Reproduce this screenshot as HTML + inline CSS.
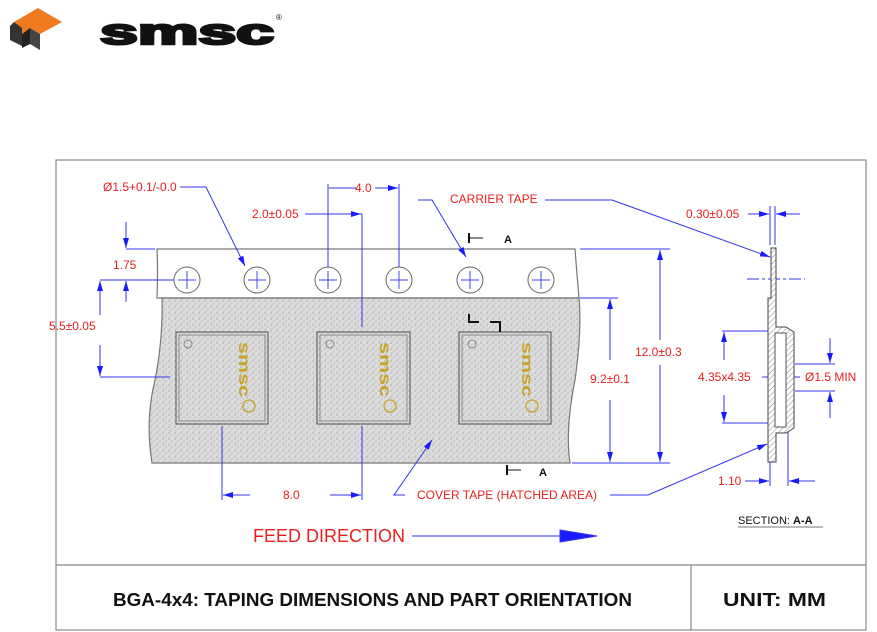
<!DOCTYPE html>
<html><head><meta charset="utf-8"><style>
html,body{margin:0;padding:0;background:#fff;}
svg{display:block;}
text{font-family:"Liberation Sans",sans-serif;}
</style></head><body>
<svg width="877" height="632" viewBox="0 0 877 632" xmlns="http://www.w3.org/2000/svg">
<defs>
<pattern id="dots" width="6" height="6" patternUnits="userSpaceOnUse">
<rect width="6" height="6" fill="#dcdcdc"/>
<circle cx="1" cy="1" r="0.8" fill="#aaa"/><circle cx="4" cy="3" r="0.7" fill="#b4b4b4"/><circle cx="2" cy="5" r="0.6" fill="#aaa"/>
</pattern>
<pattern id="hat" width="4" height="4" patternUnits="userSpaceOnUse" patternTransform="rotate(45)">
<rect width="4" height="4" fill="#fff"/><line x1="0" y1="0" x2="0" y2="4" stroke="#888" stroke-width="1"/>
</pattern>
<marker id="ar" markerWidth="10" markerHeight="6" refX="10" refY="3" orient="auto" markerUnits="userSpaceOnUse"><path d="M0,0 L10,3 L0,6z" fill="#1a1aff"/></marker>
</defs>
<!-- logo -->
<polygon points="14,22 38,8 62,22 40,34 30,28 22,34" fill="#f07a1e"/>
<polygon points="14,22 22,28 22,46 10,40 10,26" fill="#333"/>
<polygon points="30,28 40,34 40,50 30,44" fill="#444"/>
<polygon points="22,34 30,28 30,44 22,48" fill="#222"/>
<text x="100" y="44" font-size="36" font-weight="bold" fill="#111" stroke="#111" stroke-width="2.5" textLength="174" lengthAdjust="spacingAndGlyphs">smsc</text>
<text x="276" y="20" font-size="8" fill="#111">®</text>
<!-- frame -->
<rect x="56" y="160" width="810" height="470" fill="none" stroke="#888" stroke-width="1.2"/>
<line x1="56" y1="565" x2="866" y2="565" stroke="#888" stroke-width="1.2"/>
<line x1="691" y1="565" x2="691" y2="630" stroke="#888" stroke-width="1.2"/>
<text x="113" y="606" font-size="18" font-weight="bold" fill="#111" textLength="519" lengthAdjust="spacingAndGlyphs">BGA-4x4: TAPING DIMENSIONS AND PART ORIENTATION</text>
<text x="723" y="606" font-size="18" font-weight="bold" fill="#111" textLength="103" lengthAdjust="spacingAndGlyphs">UNIT: MM</text>
<!-- tape -->
<path d="M157,249 L575,249 Q577,275 579,298 L157,298 Q158,272 157,249z" fill="#fff" stroke="#777" stroke-width="1.2"/>
<path d="M162,298 L579,298 Q582,330 575,380 Q565,430 570,463 L152,463 Q145,420 155,380 Q163,340 162,298z" fill="url(#dots)" stroke="#777" stroke-width="1.2"/>
<g fill="#fff" stroke="#666" stroke-width="1">
<circle cx="187" cy="280" r="13"/><circle cx="257" cy="280" r="13"/><circle cx="328" cy="280" r="13"/><circle cx="399" cy="280" r="13"/><circle cx="470" cy="280" r="13"/><circle cx="541" cy="280" r="13"/>
</g>
<g stroke="#4444ee" stroke-width="1">
<path d="M187,271v18M178,280h18M257,271v18M248,280h18M328,271v18M319,280h18M399,271v18M390,280h18M470,271v18M461,280h18M541,271v18M532,280h18"/>
</g>
<!-- pockets -->
<g fill="url(#dots)" stroke="#666" stroke-width="1.2">
<rect x="176" y="332" width="92" height="92"/><rect x="317" y="332" width="93" height="92"/><rect x="459" y="332" width="92" height="92"/>
</g>
<g fill="none" stroke="#777" stroke-width="0.8">
<rect x="179" y="335" width="86" height="86"/><rect x="320" y="335" width="87" height="86"/><rect x="462" y="335" width="86" height="86"/>
<circle cx="188" cy="344" r="4"/><circle cx="330" cy="344" r="4"/><circle cx="472" cy="344" r="4"/>
</g>
<g fill="#c9a227" font-size="16" font-weight="bold">
<text transform="translate(239,342) rotate(90)" textLength="55" lengthAdjust="spacingAndGlyphs">smsc</text><text transform="translate(380,342) rotate(90)" textLength="55" lengthAdjust="spacingAndGlyphs">smsc</text><text transform="translate(522,342) rotate(90)" textLength="55" lengthAdjust="spacingAndGlyphs">smsc</text>
</g>
<g fill="none" stroke="#c9a227" stroke-width="1.3"><circle cx="249" cy="406" r="6"/><circle cx="390" cy="406" r="6"/><circle cx="532" cy="406" r="6"/></g>
<!-- section marks -->
<g stroke="#111" stroke-width="2" fill="none"><path d="M469,314v8h10M490,322h10v10"/><path d="M469,233v10M507,465v10"/></g>
<g stroke="#111" stroke-width="1"><path d="M469,238h14M507,470h14"/></g>
<text x="504" y="243" font-size="11" font-weight="bold" fill="#111">A</text>
<text x="539" y="476" font-size="11" font-weight="bold" fill="#111">A</text>
<!-- dimension lines -->
<g stroke="#3333ee" stroke-width="1" fill="none">
<path d="M180,187 L206,187 L245,266" marker-end="url(#ar)"/>
<path d="M328,267V184M399,267V184"/>
<path d="M357,188H329M375,188H398" marker-end="url(#ar)"/>
<path d="M305,214H362M362,214V327"/>
<path d="M345,214H361" marker-end="url(#ar)"/>
<path d="M126,249H155"/><path d="M126,222V248" marker-end="url(#ar)"/><path d="M126,302V281" marker-end="url(#ar)"/>
<path d="M100,280H174M100,377H170"/><path d="M100,315V281" marker-end="url(#ar)"/><path d="M100,345V376" marker-end="url(#ar)"/>
<path d="M222,426V500M362,426V500"/><path d="M250,495H223" marker-end="url(#ar)"/><path d="M330,495H361" marker-end="url(#ar)"/>
<path d="M580,249H670M580,298H618M572,463H670"/>
<path d="M660,340V250" marker-end="url(#ar)"/><path d="M660,365V462" marker-end="url(#ar)"/>
<path d="M610,360V299" marker-end="url(#ar)"/><path d="M610,400V462" marker-end="url(#ar)"/>
<path d="M418,200L432,200L466,257" marker-end="url(#ar)"/>
<path d="M545,200L612,200L770,257" marker-end="url(#ar)"/>
<path d="M405,495L394,495L432,440" marker-end="url(#ar)"/>
<path d="M610,495L648,495L767,444" marker-end="url(#ar)"/>
<path d="M412,536H560"/><path d="M560,530L597,536L560,542z" fill="#1a1aff"/>
<path d="M770,245V206M775,245V206"/><path d="M748,214H769" marker-end="url(#ar)"/><path d="M800,214H776" marker-end="url(#ar)"/>
<path d="M747,279H805" stroke-dasharray="12,3,3,3"/>
<path d="M722,331H770M722,423H770"/><path d="M724,360V332" marker-end="url(#ar)"/><path d="M724,395V422" marker-end="url(#ar)"/>
<path d="M762,377H800"/>
<path d="M795,364H835M795,391H835"/><path d="M830,338V363" marker-end="url(#ar)"/><path d="M830,418V392" marker-end="url(#ar)"/>
<path d="M770,462V486M788,420V486"/><path d="M745,481H769" marker-end="url(#ar)"/><path d="M815,481H789" marker-end="url(#ar)"/>
</g>
<!-- section view -->
<g stroke="#444" stroke-width="1" fill="url(#hat)">
<path d="M771,248H776V298V327H786L794,332V428L786,433H776V462H768V298H771z"/>
</g>
<rect x="775" y="333" width="11" height="94" fill="#fff" stroke="#555"/>
<!-- labels -->
<g fill="#e8201e" font-size="12">
<text x="103" y="191">Ø1.5+0.1/-0.0</text>
<text x="252" y="218">2.0±0.05</text>
<text x="355" y="192">4.0</text>
<text x="450" y="203">CARRIER TAPE</text>
<text x="113" y="269">1.75</text>
<text x="49" y="330">5.5±0.05</text>
<text x="635" y="356">12.0±0.3</text>
<text x="590" y="383">9.2±0.1</text>
<text x="283" y="499">8.0</text>
<text x="417" y="499">COVER TAPE (HATCHED AREA)</text>
<text x="686" y="218">0.30±0.05</text>
<text x="698" y="381">4.35x4.35</text>
<text x="805" y="381">Ø1.5 MIN</text>
<text x="718" y="485">1.10</text>
<text x="253" y="542" font-size="18">FEED DIRECTION</text>
</g>
<text x="738" y="524" font-size="11" fill="#111">SECTION: <tspan font-weight="bold">A-A</tspan></text>
<line x1="738" y1="527" x2="823" y2="527" stroke="#777"/>
</svg>
</body></html>
